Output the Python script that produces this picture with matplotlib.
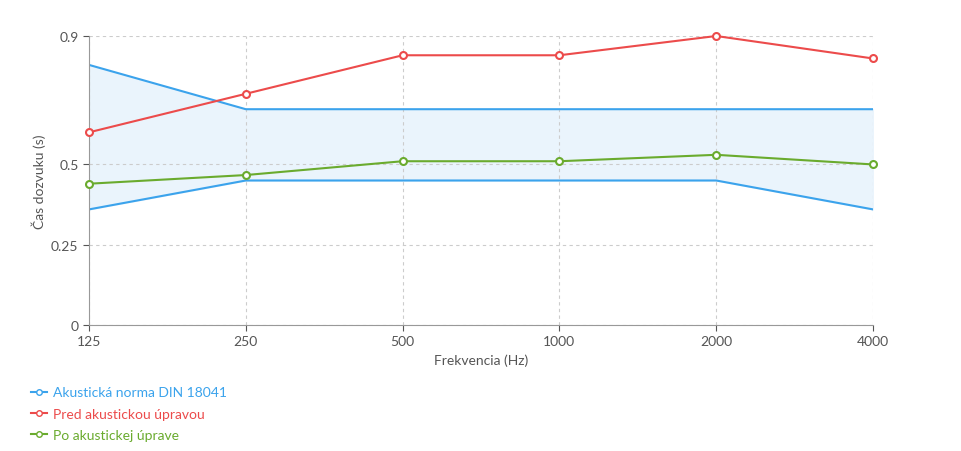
import matplotlib.pyplot as plt
from matplotlib.lines import Line2D

freqs = ["125", "250", "500", "1000", "2000", "4000"]
norm_upper = [0.81, 0.672, 0.672, 0.672, 0.672, 0.672]
norm_lower = [0.36, 0.45, 0.45, 0.45, 0.45, 0.36]
pred = [0.60, 0.72, 0.84, 0.84, 0.90, 0.83]
po = [0.44, 0.467, 0.51, 0.51, 0.53, 0.50]
yticks = [0, 0.25, 0.5, 0.9]

blue, red, green = "#3ba3ec", "#ec4b4b", "#6aab2e"
plt.rcParams['font.family'] = ['Lato', 'DejaVu Sans']
fig = plt.figure(figsize=(9.61, 4.52), dpi=100)
ax = fig.add_axes([89/961, 1-326/452, (873-89)/961, (326-37)/452])
x = list(range(len(freqs)))
ax.fill_between(x, norm_lower, norm_upper, color="#eaf4fc", zorder=1)
ax.plot(x, norm_upper, color=blue, lw=1.5, zorder=2)
ax.plot(x, norm_lower, color=blue, lw=1.5, zorder=2)
ax.plot(x, pred, color=red, lw=1.5, marker="o", ms=5, mfc="white", mec=red, mew=1.5, zorder=3, clip_on=False)
ax.plot(x, po, color=green, lw=1.5, marker="o", ms=5, mfc="white", mec=green, mew=1.5, zorder=3, clip_on=False)
ax.set_xlim(0, len(freqs)-1)
ax.set_ylim(0, 0.9)
ax.set_xticks(x, freqs)
ax.set_yticks(yticks, ["0", "0.25", "0.5", "0.9"])
ax.grid(True, ls=(0, (3, 3)), color="#cccccc", lw=0.8)
for s in ["top", "right"]:
    ax.spines[s].set_visible(False)
ax.spines["left"].set_color("#999999")
ax.spines["bottom"].set_color("#999999")
ax.tick_params(colors="#555555", labelsize=10, length=4)
ax.set_xlabel("Frekvencia (Hz)", color="#555555", fontsize=10)
ax.set_ylabel("Čas dozvuku (s)", color="#555555", fontsize=10)

handles = [Line2D([], [], color=c, marker="o", ms=4, mfc="white", mec=c, lw=1.5) for c in (blue, red, green)]
labels = ["Akustická norma DIN 18041", "Pred akustickou úpravou", "Po akustickej úprave"]
leg = fig.legend(handles, labels, loc="upper left", bbox_to_anchor=(18/961, 1-375/452), frameon=False,
                 fontsize=10, handlelength=1.2, handletextpad=0.4, labelspacing=0.65)
for t, c in zip(leg.get_texts(), (blue, red, green)):
    t.set_color(c)
fig.savefig("out.png", dpi=100)
